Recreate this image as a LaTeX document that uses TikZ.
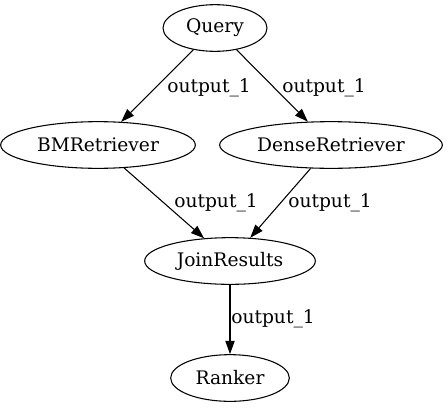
\documentclass[tikz,border=0pt]{standalone}
\usepackage{fontspec}
\setmainfont{DejaVu Serif}
\usetikzlibrary{arrows.meta,shapes.geometric}
\begin{document}
\begin{tikzpicture}[x=0.75pt,y=-0.75pt,
  gnode/.style={draw,ellipse,inner sep=0pt,minimum height=35pt,line width=0.8pt,font=\fontsize{14}{16}\selectfont},
  gedge/.style={draw,line width=0.8pt,-{Triangle[length=10pt,width=7pt]}},
  glabel/.style={inner sep=0pt,anchor=base west,font=\fontsize{14}{16}\selectfont}]
\useasboundingbox (0,0) rectangle (448,407);
\node[gnode,minimum width=78pt] (q) at (215,28) {Query};
\node[gnode,minimum width=146pt] (bm) at (98,145) {BMRetriever};
\node[gnode,minimum width=167pt] (dr) at (331,145) {DenseRetriever};
\node[gnode,minimum width=128pt] (jr) at (230,261) {JoinResults};
\node[gnode,minimum width=89pt] (rk) at (230,378) {Ranker};
\draw[gedge] (q) -- (bm);
\draw[gedge] (q) -- (dr);
\draw[gedge] (bm) -- (jr);
\draw[gedge] (dr) -- (jr);
\draw[gedge] (jr) -- (rk);
\node[glabel] (l1) at (167,92) {output\_1};
\node[glabel] (l2) at (282,92) {output\_1};
\node[glabel] (l3) at (174,207) {output\_1};
\node[glabel] (l4) at (288,207) {output\_1};
\node[glabel] (l5) at (231,323) {output\_1};
\end{tikzpicture}
\end{document}
